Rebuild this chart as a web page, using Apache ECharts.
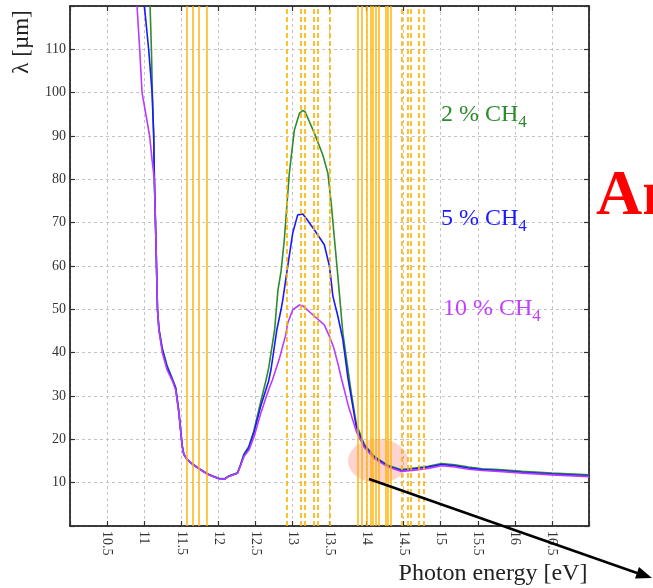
<!DOCTYPE html>
<html>
<head>
<meta charset="utf-8">
<script src="https://cdn.jsdelivr.net/npm/echarts@6/dist/echarts.min.js"></script>
<style>
  html, body { margin: 0; padding: 0; background: #fff; }
  #chart { width: 653px; height: 588px; }
</style>
</head>
<body>
<div id="chart"></div>
<script>
// photon energy [eV] and absorption length [um]
const greenE = [11.08, 11.098, 11.111, 11.129, 11.138, 11.16, 11.18, 11.2, 11.245, 11.31, 11.38, 11.425, 11.468, 11.513, 11.535, 11.58, 11.626, 11.739, 11.852, 11.92, 12.01, 12.087, 12.145, 12.259, 12.3, 12.345, 12.41, 12.48, 12.57, 12.64, 12.68, 12.76, 12.805, 12.846, 12.89, 12.958, 13.026, 13.094, 13.14, 13.171, 13.297, 13.41, 13.478, 13.523, 13.568, 13.613, 13.68, 13.73, 13.8, 13.862, 13.97, 14.11, 14.29, 14.47, 14.65, 14.83, 15.01, 15.19, 15.375, 15.556, 15.78, 16.1, 16.5, 17]
const greenL = [120, 110, 100, 90, 80, 65, 50, 45.5, 41, 37, 34, 32, 26.5, 18.6, 16.6, 15.4, 14.7, 13.3, 12.1, 11.6, 11.0, 10.9, 11.6, 12.3, 14.2, 16.6, 18.3, 22, 28.5, 33.4, 36.5, 45.3, 54.5, 58.7, 66, 81.4, 91.4, 95.2, 95.9, 95.6, 90.6, 85.6, 81.4, 74.5, 66, 57.6, 44.5, 38.4, 30, 23.5, 18.8, 16.0, 14.0, 13.0, 13.4, 13.8, 14.4, 14.1, 13.6, 13.2, 13.0, 12.6, 12.2, 11.8]

const blueE = [11.003, 11.061, 11.107, 11.129, 11.138, 11.16, 11.18, 11.2, 11.245, 11.31, 11.38, 11.425, 11.468, 11.513, 11.535, 11.58, 11.626, 11.739, 11.852, 11.92, 12.01, 12.087, 12.145, 12.259, 12.3, 12.348, 12.41, 12.48, 12.57, 12.678, 12.71, 12.79, 12.846, 12.87, 12.936, 13.004, 13.071, 13.14, 13.184, 13.297, 13.43, 13.5, 13.546, 13.613, 13.68, 13.75, 13.862, 13.97, 14.11, 14.29, 14.47, 14.65, 14.83, 15.01, 15.19, 15.375, 15.556, 15.78, 16.1, 16.5, 17]
const blueL = [120, 110, 100, 90, 80, 65, 50, 45.3, 40.7, 36.6, 33.8, 31.8, 26.3, 18.5, 16.5, 15.4, 14.6, 13.2, 12.0, 11.5, 10.9, 10.85, 11.5, 12.2, 14.0, 16.4, 18.0, 21.5, 27.5, 33.4, 36, 45.3, 49.9, 52.2, 59.9, 67.6, 71.8, 72.0, 71.0, 68.3, 64.9, 59.9, 53, 48.4, 43, 34, 22.8, 18.5, 15.8, 13.8, 12.8, 13.2, 13.6, 14.2, 13.9, 13.4, 13.0, 12.8, 12.4, 12.0, 11.6]

const purpleE = [10.904, 10.94, 10.972, 11.074, 11.11, 11.138, 11.16, 11.18, 11.2, 11.245, 11.31, 11.38, 11.425, 11.468, 11.513, 11.535, 11.58, 11.626, 11.739, 11.852, 11.92, 12.01, 12.087, 12.145, 12.259, 12.3, 12.348, 12.416, 12.484, 12.575, 12.64, 12.687, 12.73, 12.82, 12.91, 12.936, 13.004, 13.094, 13.14, 13.297, 13.43, 13.5, 13.56, 13.62, 13.66, 13.75, 13.862, 13.97, 14.11, 14.29, 14.47, 14.65, 14.83, 15.01, 15.19, 15.375, 15.556, 15.78, 16.1, 16.5, 17]
const purpleL = [120, 110, 100, 90, 84, 80, 65, 50, 45, 40, 36, 33.5, 31.4, 26.1, 18.4, 16.5, 15.3, 14.6, 13.2, 12.0, 11.5, 10.9, 10.85, 11.5, 12.2, 13.9, 16.1, 17.6, 20.7, 26.1, 29.5, 31.8, 33.7, 38.4, 44.1, 46.8, 49.9, 51.0, 50.8, 48.4, 46.4, 43.7, 41, 37, 34.1, 28, 21.8, 18.1, 15.5, 13.6, 12.6, 12.9, 13.3, 13.9, 13.6, 13.1, 12.8, 12.6, 12.2, 11.8, 11.4]

// lamp / emission line energies (orange verticals)
const solidLines = [11.572, 11.646, 11.738, 11.840, 13.875, 13.930, 13.997, 14.051, 14.079, 14.119, 14.173, 14.255, 14.282, 14.322]
const dashedLines = [12.927, 13.107, 13.171, 13.289, 13.343, 13.513, 14.485, 14.553, 14.593, 14.711, 14.766]

const seriesNames = ['2 % CH4', '5 % CH4', '10 % CH4']

const serif = 'Liberation Serif'
const orange = '#FFB300'

function pairs(e, l) {
  return e.map((x, i) => [x, l[i]])
}

function curve(name, e, l, color) {
  return {
    name: name,
    type: 'line',
    data: pairs(e, l),
    showSymbol: false,
    z: 3,
    lineStyle: { color: color, width: 1.6 },
    itemStyle: { color: color }
  }
}

function subLabel(text, x, y, color) {
  return {
    type: 'text', z: 10, x: x, y: y,
    style: {
      text: text, font: '24px "Liberation Serif"', fill: color,
      rich: { s: { fontSize: 17, fontFamily: serif, fill: color, padding: [15, 0, 0, 0], verticalAlign: 'top' } }
    }
  }
}

const markData = solidLines.map(v => ({ xAxis: v, lineStyle: { type: 'solid', width: 1.6 } }))
  .concat(dashedLines.map(v => ({ xAxis: v, lineStyle: { type: [5, 3], width: 1.8 } })))

const axisCommon = {
  axisLine: { show: true, onZero: false, lineStyle: { color: '#000', width: 1.5 } },
  axisTick: { show: true, inside: true, length: 5, lineStyle: { color: '#333', width: 1.2 } }
}

const chart = echarts.init(document.getElementById('chart'))
chart.setOption({
  backgroundColor: '#fff',
  animation: false,
  grid: { left: 70, right: 64, top: 6, bottom: 62 },
  xAxis: [
    Object.assign({
      type: 'value', min: 10, max: 17, interval: 0.5, position: 'bottom',
      axisLabel: {
        rotate: -90, margin: 5, fontFamily: serif, fontSize: 14, color: '#333',
        formatter: v => (v === 10 || v === 17) ? '' : String(v)
      },
      splitLine: { show: true, lineStyle: { color: '#c4c4c4', type: [3, 3], width: 1 } }
    }, axisCommon),
    Object.assign({
      type: 'value', min: 10, max: 17, interval: 0.5, position: 'top',
      axisLabel: { show: false }, splitLine: { show: false }
    }, axisCommon)
  ],
  yAxis: [
    Object.assign({
      type: 'value', min: 0, max: 120, interval: 10, position: 'left',
      axisLabel: {
        margin: 4, fontFamily: serif, fontSize: 14, color: '#333',
        formatter: v => (v === 0 || v === 120) ? '' : String(v)
      },
      splitLine: { show: true, lineStyle: { color: '#c4c4c4', type: [3, 3], width: 1 } }
    }, axisCommon),
    Object.assign({
      type: 'value', min: 0, max: 120, interval: 10, position: 'right',
      axisLabel: { show: false }, splitLine: { show: false }
    }, axisCommon)
  ],
  series: [
    {
      type: 'line', data: [], z: 1, silent: true,
      markLine: {
        silent: true, symbol: ['none', 'none'], label: { show: false },
        lineStyle: { color: orange, opacity: 0.9 },
        data: markData
      }
    },
    curve(seriesNames[0], greenE, greenL, '#2E8B2E'),
    curve(seriesNames[1], blueE, blueL, '#1A1AFF'),
    curve(seriesNames[2], purpleE, purpleL, '#B83CFF')
  ],
  graphic: [
    { type: 'ellipse', z: 2, shape: { cx: 378, cy: 461, rx: 30, ry: 22 }, style: { fill: 'rgba(255,120,110,0.32)' } },
    { type: 'text', z: 10, x: 22, y: 42, rotation: Math.PI / 2,
      style: { text: 'λ [µm]', font: '23px "Liberation Serif"', fill: '#222', align: 'center', verticalAlign: 'middle' } },
    { type: 'text', z: 10, x: 493, y: 574,
      style: { text: 'Photon energy [eV]', font: '24px "Liberation Serif"', fill: '#222', align: 'center', verticalAlign: 'middle' } },
    subLabel('2 % CH{s|4}', 441, 99, '#2E8B2E'),
    subLabel('5 % CH{s|4}', 441, 203, '#1A1AFF'),
    subLabel('10 % CH{s|4}', 443, 293, '#C040FF'),
    { type: 'text', z: 10, x: 596, y: 165,
      style: { text: 'An', font: 'bold 64px "Liberation Serif"', fill: '#FF0000', verticalAlign: 'alphabetic' } },
    { type: 'line', z: 10, shape: { x1: 369, y1: 479, x2: 637, y2: 573 }, style: { stroke: '#000', lineWidth: 2.5 } },
    { type: 'polygon', z: 10, shape: { points: [[652, 578], [635, 578.5], [639, 567]] }, style: { fill: '#000' } }
  ]
})
</script>
</body>
</html>
